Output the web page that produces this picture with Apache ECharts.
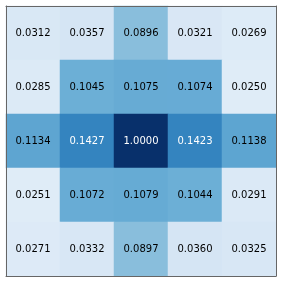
<!DOCTYPE html>
<html>
<head>
<meta charset="utf-8">
<script src="https://cdn.jsdelivr.net/npm/echarts@6/dist/echarts.min.js"></script>
<style>
html,body{margin:0;padding:0;background:#fff;}
#main{width:283px;height:283px;}
</style>
</head>
<body>
<div id="main"></div>
<script>
var xCategories = ['0', '1', '2', '3', '4'];
var yCategories = ['0', '1', '2', '3', '4'];
var row0 = [0.0312, 0.0357, 0.0896, 0.0321, 0.0269];
var row1 = [0.0285, 0.1045, 0.1075, 0.1074, 0.0250];
var row2 = [0.1134, 0.1427, 1.0000, 0.1423, 0.1138];
var row3 = [0.0251, 0.1072, 0.1079, 0.1044, 0.0291];
var row4 = [0.0271, 0.0332, 0.0897, 0.0360, 0.0325];
var rows = [row0, row1, row2, row3, row4];

var colorMin = 0;
var colorMax = 0.21;
var whiteThreshold = 0.13;

var data = [];
rows.forEach(function (row, yi) {
  row.forEach(function (v, xi) {
    data.push({
      value: [xi, yi, v],
      label: { color: v > whiteThreshold ? '#ffffff' : '#000000' }
    });
  });
});

var chart = echarts.init(document.getElementById('main'), null, {renderer: 'canvas'});
var hiddenAxis = {
  axisLabel: {show: false},
  axisTick: {show: false},
  splitLine: {show: false},
  axisLine: {show: true, lineStyle: {color: '#666', width: 1}},
  z: 10
};
chart.setOption({
  animation: false,
  grid: {left: 6, top: 6, width: 270, height: 270, containLabel: false},
  xAxis: [
    Object.assign({type: 'category', data: xCategories, position: 'bottom'}, hiddenAxis),
    Object.assign({type: 'category', data: xCategories, position: 'top'}, hiddenAxis)
  ],
  yAxis: [
    Object.assign({type: 'category', data: yCategories, inverse: true, position: 'left'}, hiddenAxis),
    Object.assign({type: 'category', data: yCategories, inverse: true, position: 'right'}, hiddenAxis)
  ],
  visualMap: {
    show: false,
    type: 'continuous',
    min: colorMin,
    max: colorMax,
    dimension: 2,
    inRange: {
      color: ['#f7fbff', '#deebf7', '#c6dbef', '#9ecae1', '#6baed6', '#4292c6', '#2171b5', '#08519c', '#08306b']
    }
  },
  series: [{
    type: 'heatmap',
    data: data,
    label: {
      show: true,
      fontFamily: 'DejaVu Sans',
      fontSize: 10,
      formatter: function (p) { return p.value[2].toFixed(4); }
    },
    itemStyle: {borderWidth: 0},
    emphasis: {disabled: true}
  }]
});
</script>
</body>
</html>
